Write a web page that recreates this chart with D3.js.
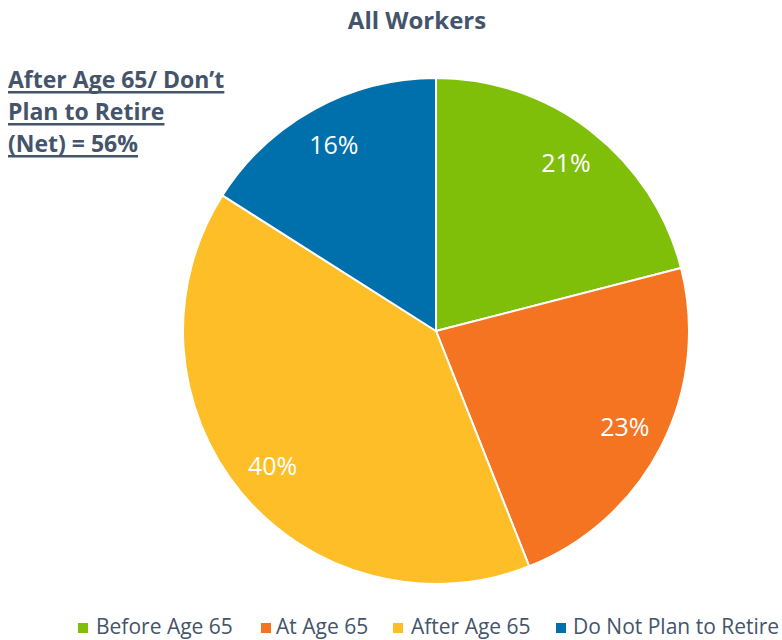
<!DOCTYPE html>
<html><head><meta charset="utf-8">
<script src="https://cdn.jsdelivr.net/npm/d3@7"></script>
<style>body{margin:0;background:#fff}</style>
</head><body>
<svg id="c" width="782" height="640"></svg>
<script>
const categories = ["Before Age 65", "At Age 65", "After Age 65", "Do Not Plan to Retire"];
const values = [21, 23, 40, 16];
const colors = ["#7FBF0A", "#F47421", "#FDBE27", "#0070AD"];
const title = "All Workers";
const noteLines = ["After Age 65/ Don\u2019t", "Plan to Retire", "(Net) = 56%"];

const svg = d3.select("#c");
const font = "'Open Sans', sans-serif";
const textColor = "#44546A";
const cx = 436, cy = 331, R = 253;

svg.append("text").attr("x", 417).attr("y", 29).attr("text-anchor", "middle")
  .attr("font-family", font).attr("font-weight", "bold").attr("font-size", 24)
  .attr("fill", textColor).text(title);

noteLines.forEach((t, i) => {
  const y = 88 + i * 32;
  const tx = svg.append("text").attr("x", 8).attr("y", y)
    .attr("font-family", font).attr("font-weight", "bold").attr("font-size", 23)
    .attr("fill", textColor).text(t);
  const w = tx.node().getComputedTextLength();
  svg.append("rect").attr("x", 8).attr("y", y + 3).attr("width", w).attr("height", 2.5)
    .attr("fill", textColor);
});

const pie = d3.pie().sort(null).value(d => d);
const arcs = pie(values);
const arc = d3.arc().innerRadius(0).outerRadius(R);
const labelArc = d3.arc().innerRadius(212).outerRadius(212);
const color = d3.scaleOrdinal().domain(categories).range(colors);

const g = svg.append("g").attr("transform", `translate(${cx},${cy})`);
g.selectAll("path").data(arcs).join("path")
  .attr("d", arc).attr("fill", (d, i) => color(categories[i]))
  .attr("stroke", "#fff").attr("stroke-width", 2);
g.selectAll("text").data(arcs).join("text")
  .attr("transform", d => `translate(${labelArc.centroid(d)})`)
  .attr("text-anchor", "middle").attr("dy", "0.35em")
  .attr("font-family", font).attr("font-size", 25).attr("fill", "#fff")
  .text(d => d.data + "%");

const legendX = [78, 261, 393, 556];
const textX = [96, 276, 411, 573];
const lg = svg.append("g");
categories.forEach((c, i) => {
  lg.append("rect").attr("x", legendX[i]).attr("y", 623).attr("width", 10).attr("height", 10)
    .attr("fill", color(c));
  lg.append("text").attr("x", textX[i]).attr("y", 634)
    .attr("font-family", font).attr("font-size", 21).attr("fill", textColor).text(c);
});
</script>
</body></html>
